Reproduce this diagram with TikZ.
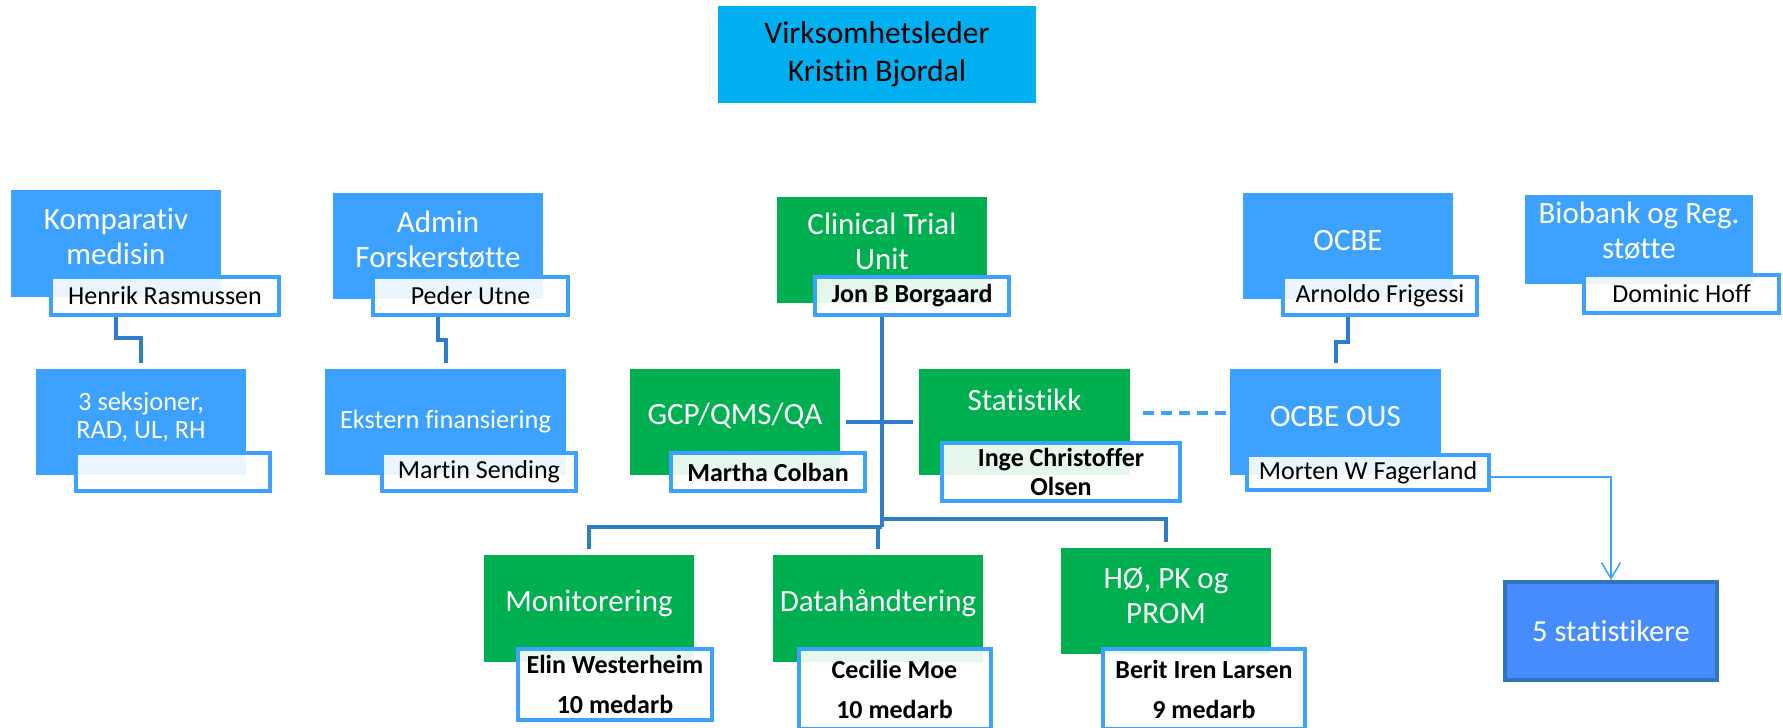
\documentclass[tikz,border=0pt]{standalone}
\usepackage{fontspec}
\setmainfont{Carlito}[Ligatures=NoCommon]
\usetikzlibrary{arrows.meta}

\definecolor{topcyan}{HTML}{00B0F0}
\definecolor{unitblue}{HTML}{3DA2FF}
\definecolor{ctugreen}{HTML}{00B050}
\definecolor{linkblue}{HTML}{2E7DCB}
\definecolor{statblue}{HTML}{468CFF}
\definecolor{statedge}{HTML}{2E74BE}

\begin{document}
\begin{tikzpicture}[x=1pt, y=-1pt,
unit/.style={rectangle, fill=unitblue, text=white, align=center, inner sep=2pt,
    minimum width=210pt, minimum height=106pt, font=\fontsize{31}{35}\selectfont},
unit-green/.style={unit, fill=ctugreen},
unit-small/.style={unit, font=\fontsize{26.4}{28}\selectfont},
person/.style={rectangle, draw=unitblue, line width=4pt, fill=white, fill opacity=0.9,
    text opacity=1, text=black, align=center, inner sep=1pt,
    minimum width=194pt, minimum height=38pt, font=\fontsize{26}{30}\selectfont},
person-bold/.style={person, font=\fontsize{26}{30}\selectfont\bfseries},
line/.style={draw=linkblue, line width=4pt},
dash-line/.style={draw=unitblue, line width=3.5pt, dash pattern=on 11pt off 7pt},
arrow-line/.style={draw=unitblue, line width=1.5pt,
    -{Straight Barb[length=16pt, width=19pt]}}
]
\useasboundingbox (0,0) rectangle (1783,728);

\node [unit, fill=topcyan, text=black, minimum width=318pt, minimum height=97pt,
    font=\fontsize{31.5}{38}\selectfont] (leder) at (877,54.5) {Virksomhetsleder\\Kristin Bjordal};

% venstre side
\node [unit, minimum height=107pt, text depth=14pt] (komp) at (116,243.5) {Komparativ\\medisin};
\node [person, minimum width=228pt] (komp-leder) at (165,296) {Henrik Rasmussen};
\node [unit-small, text depth=14pt] (komp-seksjon) at (141,422) {3 seksjoner,\\RAD, UL, RH};
\node [person] (seksjon-leder) at (173,472) {};

\node [unit, text depth=13pt] (admin) at (438,246) {Admin\\Forskerstøtte};
\node [person, minimum width=195pt] (admin-leder) at (470.5,296) {Peder Utne};
\node [unit-small, minimum width=241pt] (ekstern) at (445.5,422) {Ekstern finansiering};
\node [person] (ekstern-leder) at (479,472) {Martin Sending};

% CTU
\node [unit-green, text depth=18pt] (ctu) at (882,250) {Clinical Trial\\Unit};
\node [person-bold] (ctu-leder) at (912,296) {Jon B Borgaard};
\node [unit-green, text depth=16pt] (gcp) at (735,422) {GCP/QMS/QA};
\node [person-bold] (gcp-leder) at (768,472) {Martha Colban};
\node [unit-green, minimum width=211pt, text depth=44pt] (stat) at (1024.5,422) {Statistikk};
\node [person-bold, minimum width=238pt, minimum height=58pt,
    font=\fontsize{26}{29}\selectfont\bfseries] (stat-leder) at (1061,472) {Inge Christoffer\\Olsen};

\node [unit-green, minimum height=107pt, text depth=16pt] (monitor) at (589,608.5) {Monitorering};
\node [person-bold, minimum height=71pt, font=\fontsize{26}{40}\selectfont\bfseries]
    (monitor-leder) at (615,684.5) {Elin Westerheim\\10 medarb};
\node [unit-green, minimum height=107pt, text depth=16pt] (data) at (878,608.5) {Datahåndtering};
\node [person-bold, minimum width=192pt, minimum height=80pt, font=\fontsize{26}{40}\selectfont\bfseries]
    (data-leder) at (894.5,689) {Cecilie Moe\\10 medarb};
\node [unit-green, text depth=10pt] (ho) at (1166,601) {HØ, PK og\\PROM};
\node [person-bold, minimum width=202pt, minimum height=80pt, font=\fontsize{26}{40}\selectfont\bfseries]
    (ho-leder) at (1204,689) {Berit Iren Larsen\\9 medarb};

% hoyre side
\node [unit, text depth=12pt] (ocbe) at (1348,246) {OCBE};
\node [person] (ocbe-leder) at (1380,296) {Arnoldo Frigessi};
\node [unit, minimum width=228pt, minimum height=89pt, text depth=19pt] (biobank) at (1639,239.5) {Biobank og Reg.\\støtte};
\node [person, minimum width=195pt] (biobank-leder) at (1681.5,294) {Dominic Hoff};
\node [unit, minimum width=211pt, text depth=12pt] (ocbe-ous) at (1335.5,422) {OCBE OUS};
\node [person, minimum width=242pt, minimum height=35pt] (ous-leder) at (1368,472.5) {Morten W Fagerland};
\node [unit, fill=statblue, draw=statedge, line width=4pt, minimum width=212pt, minimum height=98pt,
    font=\fontsize{30.5}{35}\selectfont] (stat5) at (1611,631) {5 statistikere};

\path [line, shorten >=6pt] (komp-leder.south -| komp.south) -- ++(0,21) -| (komp-seksjon.north);
\path [line, shorten >=6pt] (admin-leder.south -| admin.south) -- ++(0,23) -| (ekstern.north);
\path [line, shorten >=6pt] (ocbe-leder.south -| ocbe.south) -- ++(0,25) -| (ocbe-ous.north);

\path [line] (ctu-leder.south -| ctu.south) -- ++(0,210) coordinate (ctu-bus);
\path [line, shorten <=6pt, shorten >=6pt] (gcp) -- (stat);
\path [line, shorten >=6pt] (ctu-bus) -| (monitor.north);
\path [line, shorten >=6pt] (ctu-bus) -| (data.north);
\path [line, shorten >=6pt] ([yshift=8pt]ctu-bus) -| (ho.north);

\path [dash-line, shorten <=13pt] ([yshift=9pt]stat.east) -- ([yshift=9pt]ocbe-ous.west);
\path [arrow-line] ([yshift=-4.5pt]ous-leder.east) -| (stat5.north);

\end{tikzpicture}
\end{document}
